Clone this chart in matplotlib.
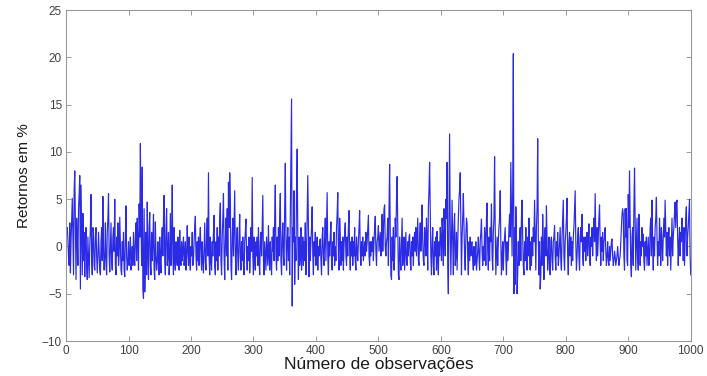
import numpy as np
import matplotlib
matplotlib.use('Agg')
import matplotlib.pyplot as plt

# retornos diarios (%), 1000 observacoes, 10 por linha
retornos = [
    1.5, 2.0, 0.8, -1.2, -2.0, 2.5, -2.8, 0.5, 3.0, 5.1,
    1.0, -3.0, 6.0, 8.0, 2.5, -3.5, 3.0, 1.0, -2.0, 4.0,
    5.5, 7.5, -4.5, 6.5, 2.0, -3.0, 3.5, -1.5, 1.5, -3.2,
    0.5, 2.0, -2.0, -3.5, 1.0, -1.0, -3.3, 0.0, 2.0, 5.5,
    -1.5, -3.0, 2.0, 1.5, -2.0, -2.5, 1.0, 2.0, -1.0, -2.8,
    -1.0, 1.5, -0.5, -2.5, -3.0, 0.5, 2.0, -1.5, 5.3, -0.5,
    -2.5, -1.0, 2.5, -2.0, -3.0, 1.5, 3.0, 5.6, -1.0, -2.7,
    0.0, 2.5, -1.5, -2.5, 1.0, 2.0, -0.5, 5.0, -2.0, -3.0,
    1.0, -1.0, 2.5, -2.0, -1.0, 3.1, 0.5, -2.5, -3.0, 0.5,
    -1.5, 1.5, -2.5, -3.2, 1.0, 4.3, -1.0, -2.5, -1.5, 0.5,
    -2.0, -1.0, 1.0, -2.5, -1.5, 0.0, -2.0, 1.5, -1.0, -2.0,
    1.0, 2.5, -1.5, 3.0, 0.5, -2.5, 4.5, 1.0, 10.9, 3.0,
    -2.0, 8.4, -4.5, -5.5, 4.0, -4.8, -2.0, 1.5, -3.0, 4.7,
    -1.0, -3.5, 2.0, 3.6, -2.0, -3.0, 1.5, -1.5, 0.5, 3.4,
    -2.5, -3.5, 2.6, -1.0, -2.5, -1.5, 0.5, -2.0, -3.0, 1.0,
    -1.5, -2.8, 0.5, 2.0, -1.0, 3.0, 5.4, -1.5, -3.0, 2.0,
    4.0, -2.0, -1.0, 1.5, -3.0, -1.5, 3.5, -2.0, 1.0, 6.5,
    -1.0, -3.0, 2.0, -1.5, -2.5, 0.5, -1.0, -2.0, 1.0, -0.5,
    -2.5, 1.7, -1.0, -2.0, 0.5, -1.5, -0.5, 1.0, -2.0, -1.0,
    0.5, -2.5, -1.0, 2.2, -0.5, -2.0, 1.0, -1.5, -2.5, 0.0,
    -1.0, 1.5, -2.0, -1.5, 0.5, 2.0, 3.2, -1.0, -2.5, 0.5,
    -1.5, 1.0, -2.0, 0.5, 2.0, -1.0, -2.5, 0.5, -1.5, -2.8,
    0.0, 2.5, -1.5, -2.5, 1.0, 3.0, -1.0, 7.8, -1.0, -3.0,
    1.0, -1.5, -2.5, 0.5, -1.0, 1.5, 3.3, -2.0, -3.0, 0.5,
    -1.5, 2.0, -2.5, 1.0, -1.0, 3.0, 4.6, -1.5, -3.0, 1.0,
    3.0, 5.6, -1.0, -3.5, 0.5, 3.0, -1.0, 4.0, -2.5, 6.8,
    2.0, 7.8, 5.0, -2.0, -3.5, 1.0, 3.0, -1.0, 2.5, 5.9,
    -1.0, -3.0, 0.5, 2.0, -1.5, -2.5, 1.0, 3.4, -1.0, -2.5,
    0.5, -1.5, 1.0, -2.0, -3.0, 0.5, 1.5, 2.9, -1.0, -2.5,
    0.0, -1.5, 1.0, -2.8, -1.0, 2.0, -0.5, 7.3, -1.0, -3.0,
    1.0, -1.5, -2.5, 0.5, -1.0, 1.0, -2.0, 2.0, -1.5, -3.0,
    0.5, 1.5, -1.0, 2.5, 5.4, -1.5, -3.0, 0.5, -1.0, -2.5,
    1.0, -0.5, -2.0, 2.2, -1.0, -2.5, 0.5, -1.5, -3.0, 1.0,
    -0.5, 2.0, -1.5, 3.0, 6.5, -1.0, -2.5, 1.0, -1.5, 2.0,
    -1.0, 3.0, 5.6, -1.5, -3.0, 1.0, 2.5, -1.0, -2.0, 4.0,
    8.8, 1.0, -2.5, 0.5, 2.0, -1.5, 1.0, -3.0, 3.5, 9.0,
    15.6, -6.3, 2.0, 0.5, 5.9, -4.0, 1.0, -1.5, 6.0, 10.3,
    0.5, -3.5, 1.0, -2.0, -1.0, 2.0, -2.5, -1.0, 1.0, -2.0,
    0.5, -1.5, 2.5, -3.0, -1.0, 3.0, 7.5, 2.0, -3.2, 1.0,
    -1.5, 0.5, 2.0, 4.2, -1.0, -3.0, 0.5, -1.0, 1.5, -2.0,
    -1.0, 1.0, -2.5, 0.0, -1.0, 0.5, 0.8, -1.5, -3.0, 1.0,
    2.0, -1.0, -2.0, 1.0, 3.0, -1.5, 2.0, 5.7, -1.0, -3.0,
    0.5, -1.0, 1.0, 2.6, -1.5, -2.5, 0.5, -1.0, 1.5, -2.0,
    0.0, -1.5, 2.0, 3.5, 5.7, -1.0, -2.5, 3.0, 1.0, -2.0,
    0.5, -1.5, 1.0, -2.5, 0.0, 1.5, 2.5, -1.0, -2.0, 1.0,
    -1.0, 2.0, 3.8, -0.5, -2.5, 0.5, -1.0, 1.0, -2.0, 0.5,
    -1.0, 2.0, -1.5, -2.5, 1.0, -0.5, -1.5, 0.5, 2.0, 3.8,
    -0.5, -2.0, 0.5, -1.0, 1.0, -1.5, -0.5, 0.5, -1.0, 1.5,
    -0.5, 0.5, 2.0, 3.3, -1.0, -2.0, 0.5, -1.0, 0.5, -0.5,
    1.0, -1.5, 0.5, 2.0, 3.2, -0.5, -2.0, 0.5, 1.0, 2.2,
    -0.5, 0.5, 1.5, -1.0, 1.0, 3.4, -0.5, 1.5, 4.0, 4.4,
    0.0, -1.0, 0.5, 1.0, 3.0, -2.0, 4.0, 8.7, 1.5, -3.0,
    -3.5, 1.0, -1.5, 2.0, -2.5, -1.0, 3.0, 1.0, 5.0, 7.4,
    2.0, -3.0, -3.5, 1.0, -1.0, -2.5, 0.5, 3.0, -2.0, -1.0,
    1.0, -2.5, -0.5, 1.5, -1.5, -2.0, 0.5, -1.0, 1.0, 1.3,
    -1.5, -2.5, 0.5, -1.0, 1.0, -2.0, 0.5, 1.5, -0.5, 2.0,
    -1.0, 1.0, 3.0, -1.5, -2.0, 1.0, 2.5, -0.5, 1.5, 4.4,
    0.5, -1.5, -2.0, 2.0, 1.0, -1.0, 3.0, 1.0, -2.5, 4.0,
    6.0, 8.9, 4.3, -1.0, -3.0, 0.5, 2.0, -2.0, -3.0, 0.5,
    -1.0, 1.0, -2.5, 1.6, -1.5, -3.0, 0.5, -1.0, 2.0, 1.0,
    -1.5, 3.0, 1.0, -2.0, 4.0, 2.0, -1.0, 5.0, 3.0, 8.9,
    -2.0, -5.0, 3.0, 11.9, 2.0, -3.0, 1.0, 4.9, 0.5, -3.0,
    2.0, 3.5, -2.0, -1.0, 1.5, -2.5, 0.5, 3.0, 5.0, 6.0,
    7.8, 2.0, -3.0, 1.0, 3.0, 5.6, 2.0, -1.0, -2.5, 1.0,
    3.0, 2.4, -1.0, -3.0, 0.5, -1.5, 1.0, -1.0, 0.3, 0.5,
    -1.5, -2.5, 0.0, -2.0, -1.5, 0.5, -2.5, -1.5, -0.5, 1.0,
    -1.0, -2.5, 0.5, 1.5, 2.9, -0.5, -2.0, 0.0, -1.5, 2.0,
    1.0, -2.0, 3.0, 4.6, -0.5, -2.5, 1.0, -1.5, 2.0, 0.5,
    4.5, -1.0, -2.5, 1.5, 3.0, 9.5, 2.0, -3.0, -1.0, 1.0,
    -2.0, 0.5, 2.0, 3.0, 5.9, 0.5, -3.0, -1.0, 0.5, -2.5,
    0.0, 1.0, 2.0, -1.0, -3.0, 0.5, -1.5, -0.5, 2.0, 3.4,
    1.0, 8.9, 4.0, -1.0, 6.0, 20.4, -5.0, 2.0, -4.0, 4.2,
    1.0, -5.0, -3.0, 0.5, -2.0, 1.0, 2.0, -1.5, 3.0, 4.9,
    1.0, -2.0, -3.0, 0.5, -1.5, 2.0, -0.5, -2.5, 1.0, -1.0,
    3.0, -0.5, -2.5, 0.5, -2.0, 1.0, -1.0, 2.0, 0.5, 4.9,
    1.0, -2.5, 2.0, 4.0, 11.4, 1.0, -3.0, 0.5, -4.5, -3.0,
    1.0, -2.0, 3.4, 0.5, -3.5, 1.0, 2.0, -1.0, 4.3, 0.5,
    -2.5, -1.0, 1.0, -2.0, -3.0, 0.5, 1.0, -1.5, -2.5, 0.5,
    1.0, 2.2, -1.0, -2.5, 0.5, -1.0, 1.5, -2.0, -1.0, 0.5,
    2.0, -1.5, -2.5, 1.0, 3.0, 4.9, -1.0, -2.5, 0.5, 1.5,
    3.0, 5.1, -1.0, -3.0, 0.5, 1.5, -1.0, 1.0, -2.0, 0.5,
    -1.5, 1.0, 2.0, 4.0, 5.9, 0.5, -2.5, -1.0, 1.0, 2.0,
    -1.0, -2.5, 1.0, 2.0, 0.5, 3.4, -1.0, -2.0, 1.0, -0.5,
    1.0, -1.5, 0.5, 1.5, -1.0, 0.5, 2.4, -0.5, -2.0, 1.0,
    0.0, 2.0, -1.0, 1.5, 3.0, 0.5, 5.6, 1.0, -1.5, 2.0,
    -1.0, 1.0, 3.0, 4.4, 0.5, -2.0, 1.0, -0.5, 1.5, -1.5,
    0.5, 1.0, 2.0, -0.5, -2.0, -1.0, 0.5, -1.5, -2.0, 0.0,
    -1.5, -0.5, 0.5, 0.8, -1.0, -2.0, -1.5, -0.5, -1.0, -2.0,
    -1.5, -1.0, 0.0, -1.0, -2.0, -1.4, -1.0, 0.5, 2.0, 3.4,
    4.0, 3.4, -1.0, -2.5, 4.0, 1.0, 4.0, -1.5, -2.0, 5.5,
    2.0, 8.0, 3.0, -2.0, -3.2, 1.0, 2.0, -2.0, 4.0, 8.3,
    3.0, -2.5, 0.5, 3.0, -1.0, -2.5, 3.4, 1.0, -2.0, 0.5,
    -1.0, 2.0, 0.0, 1.3, -1.5, -2.5, 0.5, -1.0, 1.0, -2.0,
    -0.5, 1.0, -2.0, -1.0, 2.0, 3.0, -1.0, 4.9, 0.5, -2.5,
    1.0, -1.0, 2.0, 3.0, 5.2, 1.0, -2.0, 0.5, -1.0, 3.0,
    1.0, -2.0, 2.0, 0.5, -1.5, 1.0, 3.0, 1.0, 4.9, 2.0,
    -1.0, 1.5, -2.0, 0.5, 2.0, -1.0, 1.0, -2.5, 0.5, 3.0,
    -1.0, 1.0, 2.0, 3.5, 4.7, 2.0, 4.5, 4.9, 1.0, -2.0,
    0.5, 2.0, -1.0, 1.5, 0.5, 3.0, 1.0, -1.5, 2.0, -2.0,
    0.5, 3.0, 4.2, -1.0, 1.0, 2.0, 3.5, 5.0, -1.0, -3.0,
]
observacoes = np.arange(1, len(retornos) + 1)

xticks = [0, 100, 200, 300, 400, 500, 600, 700, 800, 900, 1000]
yticks = [-10, -5, 0, 5, 10, 15, 20, 25]

plt.rcParams['font.family'] = ['Liberation Sans', 'DejaVu Sans']

fig = plt.figure(figsize=(7.07, 3.76), dpi=100)
ax = fig.add_axes([0.0934, 0.093, 0.8836, 0.880])

ax.plot(observacoes, retornos, color='#2b2be6', linewidth=0.85)

ax.set_xlim(0, 1000)
ax.set_ylim(-10, 25)
ax.set_xticks(xticks)
ax.set_yticks(yticks)
ax.set_yticklabels([str(v).replace('-', '\u2212') for v in yticks])

ax.tick_params(direction='in', length=3.5, width=0.6, colors='0.55',
               labelcolor='0.25', labelsize=8.5, top=True, right=True, pad=3)
for s in ax.spines.values():
    s.set_color('0.6')
    s.set_linewidth(0.8)

ax.set_xlabel('Número de observações', fontsize=12.5, color='0.1', labelpad=0)
ax.set_ylabel('Retornos em %', fontsize=11, color='0.1', labelpad=8)

fig.savefig('out.png', dpi=100)
